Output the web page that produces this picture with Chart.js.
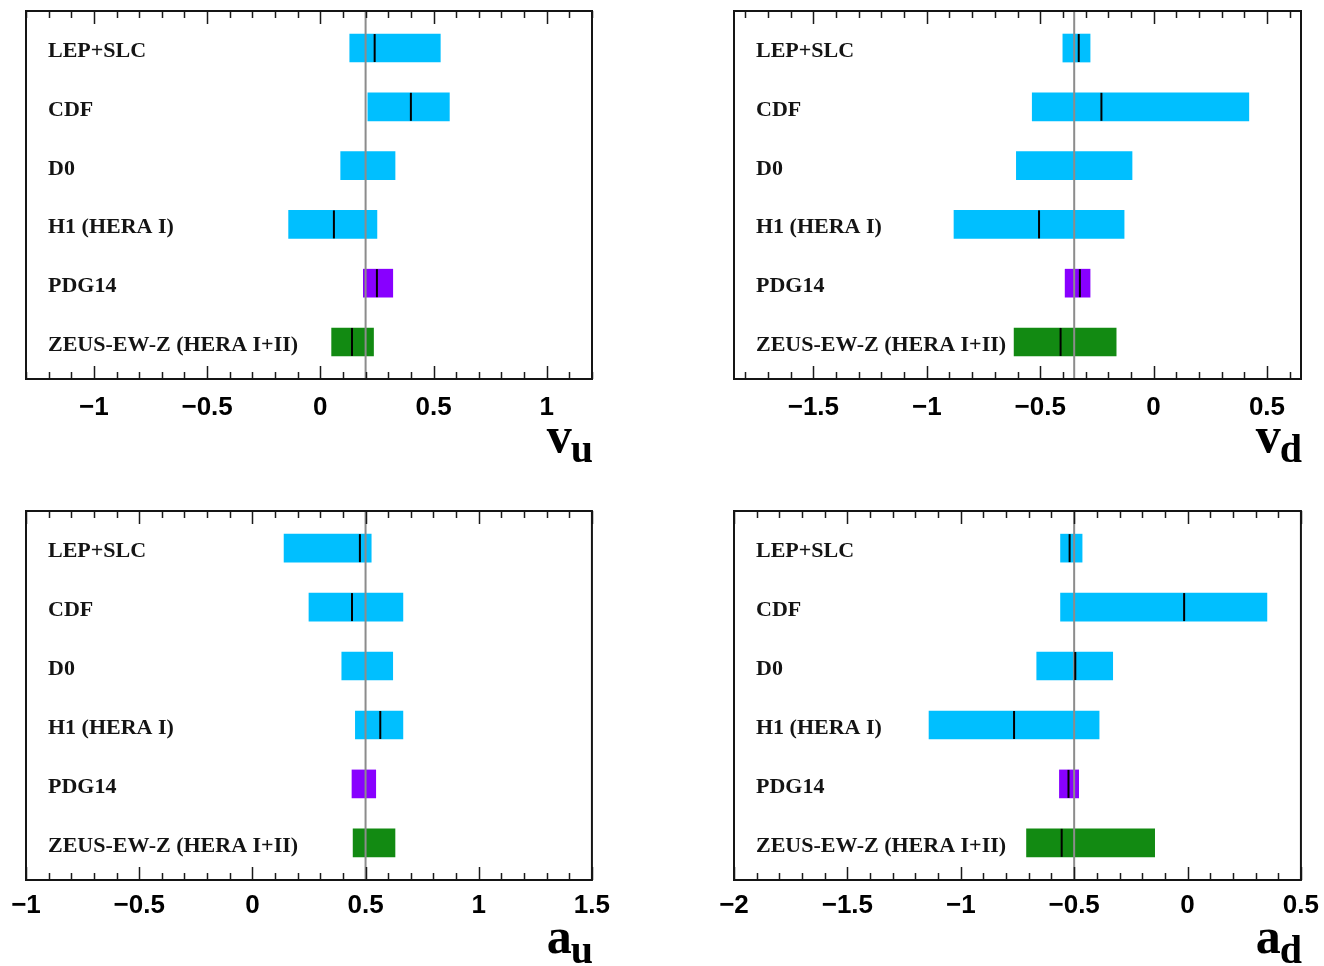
<!DOCTYPE html>
<html>
<head>
<meta charset="utf-8">
<script src="https://cdn.jsdelivr.net/npm/chart.js@4/dist/chart.umd.min.js"></script>
<style>
  body { margin: 0; background: #fff; width: 1324px; height: 966px; position: relative; overflow: hidden; }
  canvas { position: absolute; }
</style>
</head>
<body>
<canvas id="vu" width="620" height="480" style="left:0px;top:0px"></canvas>
<canvas id="vd" width="621" height="480" style="left:708px;top:0px"></canvas>
<canvas id="au" width="620" height="466" style="left:0px;top:500px"></canvas>
<canvas id="ad" width="621" height="466" style="left:708px;top:500px"></canvas>
<script>
var experiments = ["LEP+SLC", "CDF", "D0", "H1 (HERA I)", "PDG14", "ZEUS-EW-Z (HERA I+II)"];
var expColors = ["#00bfff", "#00bfff", "#00bfff", "#00bfff", "#8800ff", "#128a12"];

// v_u couplings
var vuLow = [0.13, 0.21, 0.09, -0.14, 0.19, 0.05];
var vuHigh = [0.53, 0.57, 0.33, 0.25, 0.32, 0.235];
var vuCentral = [0.24, 0.40, null, 0.06, 0.25, 0.14];
var vuSM = 0.2;
var vuTicks = [-1, -0.5, 0, 0.5, 1];

// v_d couplings
var vdLow = [-0.40, -0.535, -0.605, -0.88, -0.39, -0.615];
var vdHigh = [-0.28, 0.42, -0.095, -0.13, -0.28, -0.165];
var vdCentral = [-0.33, -0.23, null, -0.505, -0.325, -0.41];
var vdSM = -0.35;
var vdTicks = [-1.5, -1, -0.5, 0, 0.5];

// a_u couplings
var auLow = [0.14, 0.25, 0.395, 0.455, 0.44, 0.445];
var auHigh = [0.525, 0.665, 0.62, 0.665, 0.545, 0.63];
var auCentral = [0.475, 0.44, null, 0.565, null, null];
var auSM = 0.5;
var auTicks = [-1, -0.5, 0, 0.5, 1, 1.5];

// a_d couplings
var adLow = [-0.56, -0.56, -0.665, -1.14, -0.565, -0.71];
var adHigh = [-0.465, 0.35, -0.33, -0.39, -0.48, -0.145];
var adCentral = [-0.52, -0.015, -0.495, -0.765, -0.525, -0.555];
var adSM = -0.5;
var adTicks = [-2, -1.5, -1, -0.5, 0, 0.5];

var ROW_MIN = -0.63, ROW_MAX = 5.63;
var MINOR_STEP = 0.1;

function fmtTick(v) {
  var s = String(Math.abs(v));
  return v < 0 ? "\u2212" + s : s;
}

// frame, inward ticks, row labels and the axis symbol
var panelDecor = {
  id: "panelDecor",
  afterDraw: function(chart, args, opts) {
    var ctx = chart.ctx, a = chart.chartArea;
    var xs = chart.scales.x, ys = chart.scales.y;
    ctx.save();

    ctx.strokeStyle = "#1a1a1a";
    ctx.lineWidth = 1.5;
    var start = Math.ceil(xs.min / MINOR_STEP - 1e-6);
    var end = Math.floor(xs.max / MINOR_STEP + 1e-6);
    for (var k = start; k <= end; k++) {
      var v = k * MINOR_STEP;
      var major = Math.abs(v * 2 - Math.round(v * 2)) < 1e-6;
      var len = major ? 13 : 7;
      var px = Math.round(xs.getPixelForValue(v)) + 0.5;
      ctx.beginPath();
      ctx.moveTo(px, a.bottom); ctx.lineTo(px, a.bottom - len);
      ctx.moveTo(px, a.top); ctx.lineTo(px, a.top + len);
      ctx.stroke();
    }

    ctx.lineWidth = 2;
    ctx.strokeStyle = "#151515";
    ctx.strokeRect(a.left, a.top, a.right - a.left, a.bottom - a.top);

    ctx.fillStyle = "#141414";
    ctx.font = "bold 22px 'Liberation Serif', 'Times New Roman', serif";
    ctx.textAlign = "left";
    ctx.textBaseline = "alphabetic";
    for (var i = 0; i < experiments.length; i++) {
      ctx.fillText(experiments[i], a.left + 22, ys.getPixelForValue(i) + 9);
    }

    ctx.fillStyle = "#000";
    ctx.font = "bold 40px 'Liberation Serif', 'Times New Roman', serif";
    var subW = ctx.measureText(opts.sub).width;
    ctx.font = "bold 50px 'Liberation Serif', 'Times New Roman', serif";
    var mainW = ctx.measureText(opts.main).width;
    var subX = a.right + 1 - subW;
    ctx.fillText(opts.main, subX - mainW + 1, a.bottom + 73);
    ctx.font = "bold 40px 'Liberation Serif', 'Times New Roman', serif";
    ctx.fillText(opts.sub, subX, a.bottom + 83);
    ctx.restore();
  }
};

function makePanel(id, low, high, central, sm, ticks, xmin, xmax, sym, sub, axisH, labelPad, padRight) {
  var bars = [], marks = [];
  for (var i = 0; i < experiments.length; i++) {
    bars.push({ y: i, x: [low[i], high[i]] });
    if (central[i] !== null) marks.push({ x: central[i], y: i });
  }
  return new Chart(document.getElementById(id), {
    type: "bar",
    data: {
      datasets: [
        { type: "bar", indexAxis: "y", data: bars, backgroundColor: expColors,
          borderWidth: 0, barThickness: 28, order: 3 },
        { type: "line", data: [{ x: sm, y: ROW_MIN }, { x: sm, y: ROW_MAX }],
          borderColor: "#8c8c8c", borderWidth: 2, pointRadius: 0, order: 2 },
        { type: "scatter", data: marks, pointStyle: "line", pointRotation: 90,
          pointRadius: 14, pointBorderColor: "#000", pointBorderWidth: 2, order: 1 }
      ]
    },
    options: {
      responsive: false,
      animation: false,
      devicePixelRatio: 1,
      layout: { autoPadding: false, padding: { left: 26, right: padRight, top: 11, bottom: 0 } },
      plugins: {
        legend: { display: false },
        tooltip: { enabled: false },
        panelDecor: { main: sym, sub: sub }
      },
      scales: {
        x: {
          type: "linear", min: xmin, max: xmax, offset: false,
          afterFit: function(s) { s.height = axisH; },
          afterBuildTicks: function(s) { s.ticks = ticks.map(function(v) { return { value: v }; }); },
          grid: { display: false, drawTicks: false, offset: false },
          border: { display: false },
          ticks: {
            padding: labelPad, color: "#000", autoSkip: false, maxRotation: 0,
            font: { family: "'Liberation Sans', Arial, sans-serif", size: 26, weight: "bold" },
            callback: function(v) { return fmtTick(v); }
          }
        },
        y: { type: "linear", min: ROW_MIN, max: ROW_MAX, reverse: true, offset: false,
             grid: { offset: false }, display: false }
      }
    },
    plugins: [panelDecor]
  });
}

makePanel("vu", vuLow, vuHigh, vuCentral, vuSM, vuTicks, -1.3, 1.2, "v", "u", 101, 13, 28);
makePanel("vd", vdLow, vdHigh, vdCentral, vdSM, vdTicks, -1.85, 0.65, "v", "d", 101, 13, 28);
makePanel("au", auLow, auHigh, auCentral, auSM, auTicks, -1, 1.5, "a", "u", 86, 10, 28);
makePanel("ad", adLow, adHigh, adCentral, adSM, adTicks, -2, 0.5, "a", "d", 86, 10, 28);
</script>
</body>
</html>
